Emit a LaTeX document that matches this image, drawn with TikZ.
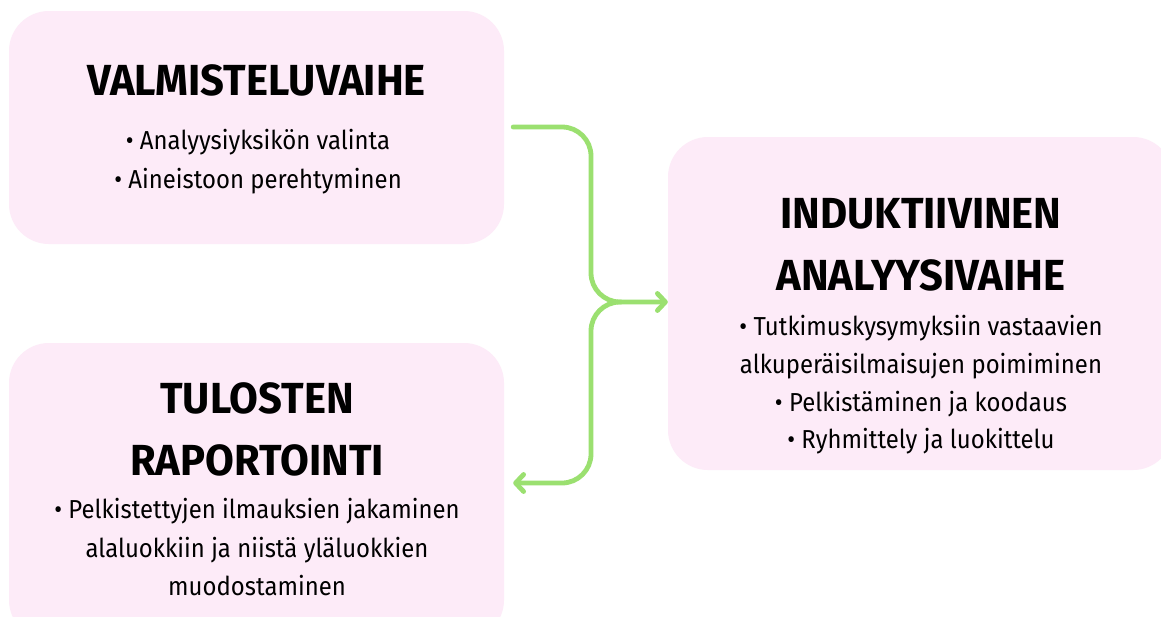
\documentclass[tikz,border=0pt]{standalone}
\usepackage{fontspec}
\usetikzlibrary{arrows.meta,calc}
\setmainfont{Fira Sans}
\newfontfamily\titlefont[FakeStretch=0.96]{Fira Sans Bold}
\newfontfamily\bodyfont[FakeStretch=0.92]{Fira Sans}
\definecolor{boxpink}{RGB}{253,235,248}
\definecolor{conngreen}{RGB}{155,224,112}
\tikzset{
  box/.style={rectangle, rounded corners=40pt, fill=boxpink, draw=none, inner sep=0pt},
  ttl/.style={font=\titlefont\fontsize{43.5}{50}\selectfont, anchor=base, inner sep=0pt},
  bdy/.style={font=\bodyfont\fontsize{26}{30}\selectfont, anchor=base, inner sep=0pt, text=black},
  conn/.style={draw=conngreen, line width=4.8pt, line cap=round, line join=round, rounded corners=29pt},
  tip/.style={-{Straight Barb[length=8pt,width=17pt,round]}}
}
\begin{document}
\begin{tikzpicture}[x=1pt,y=-1pt]
\useasboundingbox (0,0) rectangle (1161,616);
\clip (0,0) rectangle (1161,616);
\fill[white] (0,0) rectangle (1161,616);
% boxes
\node[box, minimum width=495pt, minimum height=233pt] (b1) at (256.5,127.5) {};
\node[box, minimum width=505pt, minimum height=333pt] (b2) at (920.5,303.5) {};
\node[box, minimum width=495pt, minimum height=297pt] (b3) at (256.5,491.5) {};
% box 1 texts
\node[ttl] (t1) at (256.5,95) {VALMISTELUVAIHE};
\node[bdy] (t1a) at (258,149) {• Analyysiyksikön valinta};
\node[bdy] (t1b) at (258,188) {• Aineistoon perehtyminen};
% box 2 texts
\node[ttl] (t2a) at (921,228) {INDUKTIIVINEN};
\node[ttl] (t2b) at (921,290) {ANALYYSIVAIHE};
\node[bdy] (t2c) at (921,335) {• Tutkimuskysymyksiin vastaavien};
\node[bdy] (t2d) at (921,373) {alkuperäisilmaisujen poimiminen};
\node[bdy] (t2e) at (921,411) {• Pelkistäminen ja koodaus};
\node[bdy] (t2f) at (921,448) {• Ryhmittely ja luokittelu};
% box 3 texts
\node[ttl] (t3a) at (257,413) {TULOSTEN};
\node[ttl] (t3b) at (257,475) {RAPORTOINTI};
\node[bdy] (t3c) at (257,518) {• Pelkistettyjen ilmauksien jakaminen};
\node[bdy] (t3d) at (257,557) {alaluokkiin ja niistä yläluokkien};
\node[bdy] (t3e) at (257,595) {muodostaminen};
% connectors
\coordinate (s) at ($(b1.east)+(9,-0.5)$);
\coordinate (j) at (591,302);
\coordinate (e) at ($(b3.east)+(9,-8.5)$);
\draw[conn, tip] (s) -- (s -| j) -- (j) -- (j -| b2.west);
\draw[conn, tip] ($(j)+(30,0)$) -- (j) -- (j |- e) -- (e);
\end{tikzpicture}
\end{document}
